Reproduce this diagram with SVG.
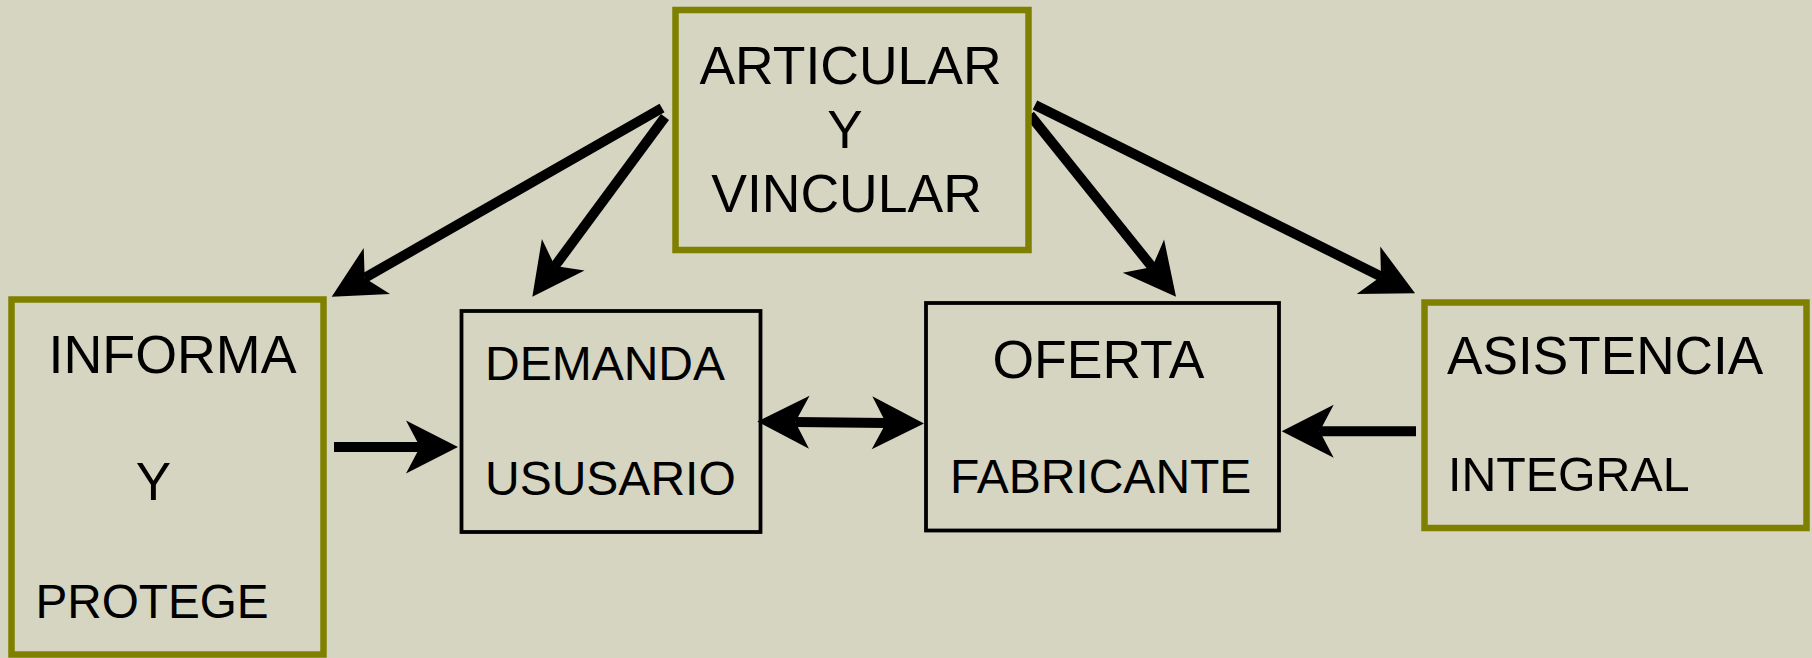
<svg xmlns="http://www.w3.org/2000/svg" width="1812" height="658" viewBox="0 0 1812 658">
  <style>
    .bg { fill: #D6D5C1; }
    .gbox { fill: none; stroke: #808000; stroke-width: 6.5; }
    .kbox { fill: none; stroke: #000000; stroke-width: 3.8; }
    .t { font-family: "Liberation Sans", Arial, sans-serif; fill: #000000; }
    .conn { stroke: #000000; stroke-width: 10; fill: none; stroke-linecap: butt; }
  </style>
  <defs>
    <marker id="ah" markerUnits="userSpaceOnUse" viewBox="-16 -28 56 56" markerWidth="56" markerHeight="56" refX="0" refY="0" orient="auto-start-reverse">
      <path d="M38,0 L-14,-26.5 L0,0 L-14,26.5 Z" fill="#000000"/>
    </marker>
  </defs>
  <rect class="bg" x="0" y="0" width="1812" height="658"/>

  <g id="connectors">
    <line class="conn" x1="662" y1="108" x2="364.7" y2="277.9" marker-end="url(#ah)"/>
    <line class="conn" x1="665" y1="117" x2="554.9" y2="266.1" marker-end="url(#ah)"/>
    <line class="conn" x1="1030" y1="115" x2="1152.2" y2="267.1" marker-end="url(#ah)"/>
    <line class="conn" x1="1035" y1="105" x2="1381" y2="276.4" marker-end="url(#ah)"/>
    <line class="conn" x1="334" y1="447" x2="420" y2="447" marker-end="url(#ah)"/>
    <line class="conn" x1="795.3" y1="422" x2="886" y2="423" marker-start="url(#ah)" marker-end="url(#ah)"/>
    <line class="conn" x1="1416" y1="431.3" x2="1319.7" y2="431.3" marker-end="url(#ah)"/>
  </g>

  <g id="node-articular">
    <rect class="gbox" x="675.5" y="10" width="353" height="240"/>
    <text class="t" x="850.5" y="84" font-size="53.5" text-anchor="middle">ARTICULAR</text>
    <text class="t" x="845" y="148" font-size="53" text-anchor="middle">Y</text>
    <text class="t" x="846.5" y="212" font-size="53.5" text-anchor="middle">VINCULAR</text>
  </g>

  <g id="node-informa">
    <rect class="gbox" x="11.5" y="299.5" width="312" height="355"/>
    <text class="t" x="48.5" y="373" font-size="53.8">INFORMA</text>
    <text class="t" x="153.5" y="500" font-size="53" text-anchor="middle">Y</text>
    <text class="t" x="35.5" y="618" font-size="47.7">PROTEGE</text>
  </g>

  <g id="node-demanda">
    <rect class="kbox" x="461.5" y="311" width="299" height="221"/>
    <text class="t" x="485" y="380" font-size="48">DEMANDA</text>
    <text class="t" x="485" y="495" font-size="48">USUSARIO</text>
  </g>

  <g id="node-oferta">
    <rect class="kbox" x="926" y="303" width="353" height="227.5"/>
    <text class="t" x="1098.5" y="378" font-size="53.5" text-anchor="middle">OFERTA</text>
    <text class="t" x="950" y="493" font-size="48">FABRICANTE</text>
  </g>

  <g id="node-asistencia">
    <rect class="gbox" x="1424.5" y="302.5" width="382" height="225.5"/>
    <text class="t" x="1447" y="374" font-size="53.2">ASISTENCIA</text>
    <text class="t" x="1448" y="491" font-size="48.3">INTEGRAL</text>
  </g>
</svg>
